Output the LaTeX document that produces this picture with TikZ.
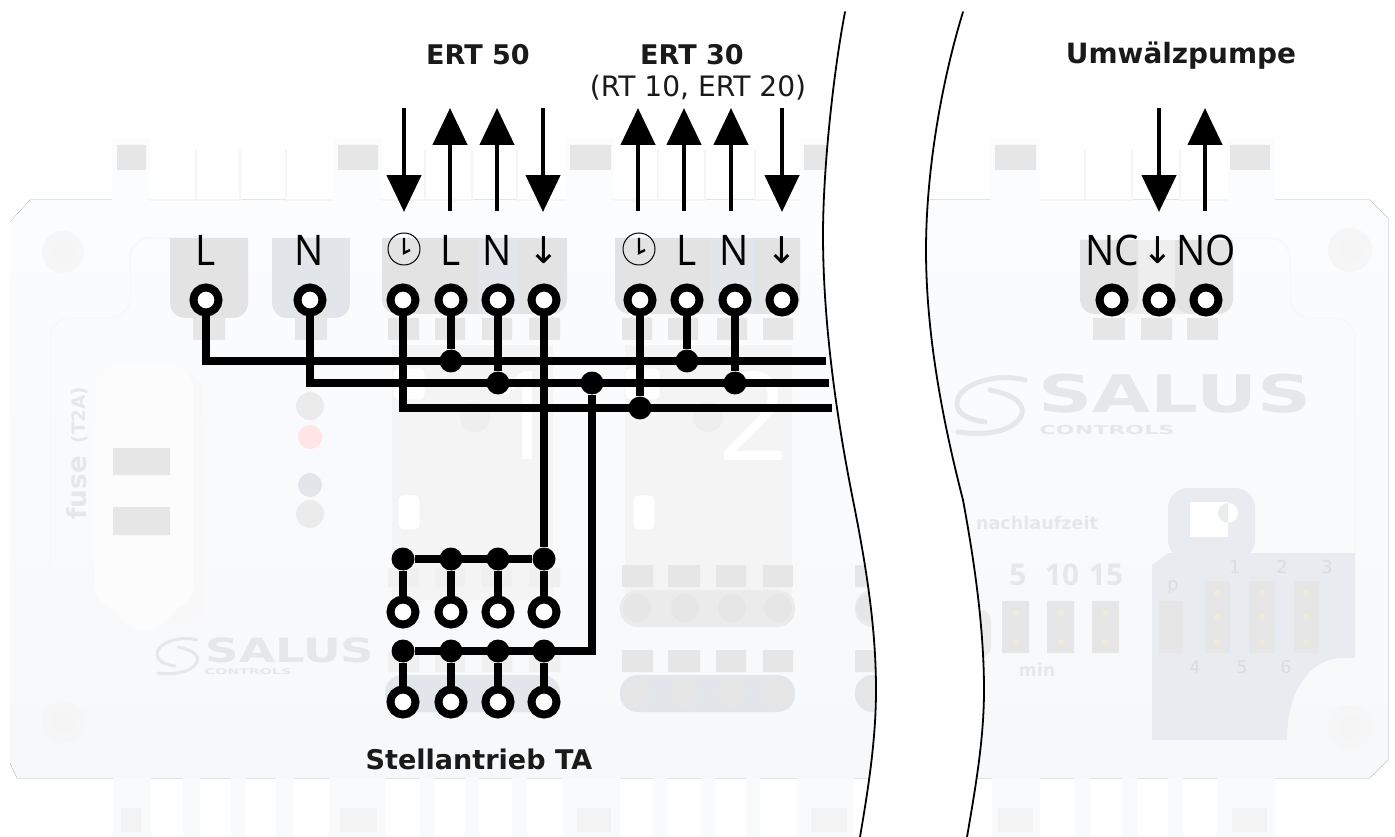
\documentclass[tikz,border=0pt]{standalone}
\usepackage{fontspec}
\setmainfont{DejaVu Sans}
\newfontfamily\termfont{Open Sans}
\usetikzlibrary{arrows.meta}
\definecolor{boardtop}{HTML}{FBFCFE}
\definecolor{boardlow}{HTML}{F7F8FA}
\definecolor{fingerc}{HTML}{F9FAFB}
\definecolor{fusec}{HTML}{FCFCFD}
\definecolor{tgray}{HTML}{E3E3E3}
\definecolor{tblue}{HTML}{E2E5EA}
\definecolor{sgray}{HTML}{E6E6E6}
\definecolor{pale}{HTML}{E5E7EB}
\definecolor{panelc}{HTML}{F4F4F4}
\definecolor{pillc}{HTML}{EBEBEB}
\definecolor{zonec}{HTML}{E8EBF0}
\definecolor{pinc}{HTML}{F0EBD8}
\definecolor{numc}{HTML}{DADCE0}
\definecolor{labk}{HTML}{1A1A1A}
\begin{document}
\begin{tikzpicture}[x=0.02cm, y=-0.02cm,
    n/.style={circle,draw=black,fill=white,line width=0.16cm,minimum size=0.5cm,inner sep=0pt},
    dot/.style={circle,fill=black,minimum size=0.46cm,inner sep=0pt},
    wire/.style={line width=0.145cm},
    arr/.style={line width=0.09cm,-{Triangle[length=0.74cm,width=0.68cm]}},
    edge/.style={line width=0.036cm,line cap=round},
    clockn/.style={circle,draw=black,line width=0.02cm,minimum size=0.64cm,inner sep=0pt},
    hand/.style={line width=0.045cm},
    title/.style={font=\bfseries\fontsize{15.4}{18}\selectfont,text=labk,inner sep=0pt},
    sub/.style={font=\fontsize{16}{18}\selectfont,text=labk,inner sep=0pt},
    term/.style={font=\termfont\fontsize{24}{26}\selectfont,inner sep=0pt,xscale=0.92,transform shape},
    gnd/.style={font=\fontsize{21}{24}\selectfont,inner sep=0pt},
    faint/.style={text=pale,inner sep=0pt,font=\bfseries\fontsize{10}{12}\selectfont},
    faintnum/.style={text=numc,inner sep=0pt,font=\fontsize{10}{12}\selectfont},
    logo/.style={text=pale,inner sep=0pt,transform shape,font=\bfseries},
    swoosh/.style={draw=pale,line cap=round}]
    \useasboundingbox (0,0) rectangle (1395,837);

    \fill[top color=boardtop,bottom color=boardlow] (30,200) -- (1370,200) -- (1388,218) -- (1388,760) -- (1370,778) -- (17,778) -- (10,763) -- (10,222) -- cycle;

    \fill[boardtop] (112,138) rectangle (150,200) (333,138) rectangle (382,200) (566,138) rectangle (614,200) (800,138) rectangle (850,200) (990,138) rectangle (1040,200) (1228,138) rectangle (1275,200);
    \fill[sgray] (117,145) rectangle (146,170) (338,145) rectangle (378,170) (570,145) rectangle (611,170) (804,145) rectangle (845,170) (995,145) rectangle (1036,170) (1230,145) rectangle (1270,170);
    \draw[sgray!40,line width=0.03cm] (196,150) -- (196,200) -- (150,200) (240,150) -- (240,200) -- (196,200) (286,150) -- (286,200) -- (333,200) (425,150) -- (425,200) -- (382,200) (472,150) -- (472,200) -- (425,200) (517,150) -- (517,200) -- (566,200) (658,150) -- (658,200) -- (614,200) (705,150) -- (705,200) -- (658,200) (755,150) -- (755,200) -- (800,200) (1085,150) -- (1085,200) -- (1040,200) (1132,150) -- (1132,200) -- (1085,200) (1180,150) -- (1180,200) -- (1228,200);

    \fill[fingerc] (113,778) rectangle (151,837) (183,778) rectangle (200,837) (231,778) rectangle (245,837) (276,778) rectangle (293,837) (329,778) rectangle (385,837) (420,778) rectangle (434,837) (465,778) rectangle (479,837) (512,778) rectangle (527,837) (563,778) rectangle (620,837) (653,778) rectangle (667,837) (701,778) rectangle (715,837) (746,778) rectangle (760,837) (797,778) rectangle (853,837) (992,778) rectangle (1040,837) (1075,778) rectangle (1090,837) (1122,778) rectangle (1137,837) (1168,778) rectangle (1183,837) (1217,778) rectangle (1275,837);
    \fill[sgray!50] (121,808) rectangle (141,832) (340,808) rectangle (377,832) (577,808) rectangle (611,832) (811,808) rectangle (847,832) (998,808) rectangle (1033,832) (1232,808) rectangle (1267,832);

    \draw[sgray!30,line width=0.04cm,rounded corners=0.4cm] (170,238) -- (130,238) -- (130,318) -- (50,318) -- (50,680) -- (100,680);
    \draw[sgray!30,line width=0.04cm,rounded corners=0.4cm] (1233,238) -- (1290,238) -- (1290,318) -- (1355,318) -- (1355,553);

    \fill[sgray!35] (1350,250) circle[radius=22] (63,252) circle[radius=21] (63,722) circle[radius=21] (1350,727) circle[radius=22];
    \fill[white!60!sgray] (1350,250) circle[radius=12] (63,252) circle[radius=11] (63,722) circle[radius=11] (1350,727) circle[radius=12];

    \fill[tgray] (170,238) -- (248,238) [rounded corners=0.3cm] -- (248,318) -- (170,318) [sharp corners] -- cycle;
    \fill[tblue] (272,238) -- (350,238) [rounded corners=0.3cm] -- (350,318) -- (272,318) [sharp corners] -- cycle;
    \fill[tgray] (382,238) -- (567,238) [rounded corners=0.3cm] -- (567,314) -- (382,314) [sharp corners] -- cycle;
    \fill[tblue] (478,238) rectangle (519,314);
    \fill[tgray] (615,238) -- (800,238) [rounded corners=0.3cm] -- (800,314) -- (615,314) [sharp corners] -- cycle;
    \fill[tblue] (710,238) rectangle (755,314);
    \fill[tgray!60] (1130,240) rectangle (1185,314);
    \fill[tgray] (1080,240) -- (1138,240) [rounded corners=0.3cm] -- (1138,314) -- (1080,314) [sharp corners] -- cycle;
    \fill[tgray] (1175,240) -- (1233,240) [rounded corners=0.3cm] -- (1233,314) -- (1175,314) [sharp corners] -- cycle;

    \fill[sgray] (193,318) rectangle (225,340) (295,318) rectangle (327,340) (388,318) rectangle (419,340) (435,318) rectangle (465,340) (482,318) rectangle (512,340) (529,318) rectangle (560,340) (622,318) rectangle (652,340) (668,318) rectangle (698,340) (717,318) rectangle (747,340) (763,318) rectangle (793,340) (1093,318) rectangle (1125,340) (1141,318) rectangle (1172,340) (1187,318) rectangle (1218,340);

    \fill[sgray!30,rounded corners=0.4cm] (150,372) rectangle (203,625);
    \fill[fusec,rounded corners=0.5cm] (95,363) rectangle (193,610);
    \fill[fusec] (95,590) .. controls (115,610) and (125,630) .. (144,630) .. controls (165,630) and (175,610) .. (193,590) -- cycle;
    \fill[sgray] (113,448) rectangle (170,475) (113,507) rectangle (170,535);
    \node[faint,rotate=90,font=\bfseries\fontsize{15}{17}\selectfont] (fuse) at (77,488) {fuse};
    \node[faint,rotate=90,font=\bfseries\fontsize{10.5}{12}\selectfont] (t2a) at (80,415) {(T2A)};

    \fill[pillc] (310,406) circle[radius=14] (310,514) circle[radius=14];
    \fill[red!10] (310,437) circle[radius=12];
    \fill[tblue] (310,485) circle[radius=12];

    \fill[panelc] (392,345) rectangle (553,600);
    \fill[panelc] (625,345) rectangle (792,600);
    \node[text=white,inner sep=0pt,font=\termfont\fontsize{70}{72}\selectfont] (rel1) at (525,416) {1};
    \node[text=white,inner sep=0pt,font=\termfont\fontsize{70}{72}\selectfont] (rel2) at (754,416) {2};
    \fill[pillc!70!panelc] (475,417) circle[radius=15] (708,417) circle[radius=15];
    \fill[white,draw=sgray!50,rounded corners=0.1cm] (393,368) rectangle (425,400) (625,368) rectangle (660,400);
    \fill[white,draw=sgray!50,rounded corners=0.1cm] (398,495) rectangle (420,530) (633,495) rectangle (655,530);

    \fill[sgray!60] (388,568) rectangle (419,587) (435,568) rectangle (465,587) (482,568) rectangle (512,587) (529,568) rectangle (560,587) (388,652) rectangle (419,672) (435,652) rectangle (465,672) (482,652) rectangle (512,672) (529,652) rectangle (560,672);
    \fill[sgray] (622,565) rectangle (653,587) (668,565) rectangle (700,587) (716,565) rectangle (746,587) (763,565) rectangle (793,587) (622,650) rectangle (653,672) (668,650) rectangle (700,672) (716,650) rectangle (746,672) (763,650) rectangle (793,672) (855,565) rectangle (890,587) (855,650) rectangle (890,672);
    \fill[pillc,rounded corners=0.35cm] (620,590) rectangle (795,627) (855,590) rectangle (900,627);
    \fill[tblue,rounded corners=0.35cm] (620,675) rectangle (795,712) (855,675) rectangle (900,712) (385,675) rectangle (560,712);
    \fill[sgray] (637,608) circle[radius=14] (685,608) circle[radius=14] (732,608) circle[radius=14] (778,608) circle[radius=14] (637,693) circle[radius=14] (685,693) circle[radius=14] (732,693) circle[radius=14] (778,693) circle[radius=14] (870,608) circle[radius=14] (870,693) circle[radius=14];
    \fill[pillc,rounded corners=0.2cm] (975,610) rectangle (991,657);

    \fill[zonec] (1255,553) -- (1355,553) -- (1355,658) -- (1340,658) .. controls (1310,660) and (1287,690) .. (1287,740) -- (1152,740) -- (1152,565) -- (1168,553) -- cycle;
    \fill[zonec,rounded corners=0.4cm] (1168,560) -- (1168,488) -- (1255,488) -- (1255,560) -- cycle;
    \fill[white] (1190,502) rectangle (1228,537) (1228,513) circle[radius=10];
    \fill[sgray] (1002,601) rectangle (1029,653) (1047,601) rectangle (1074,653) (1092,601) rectangle (1119,653) (1159,601) rectangle (1183,653) (1205,581) rectangle (1230,653) (1249,581) rectangle (1275,653) (1294,581) rectangle (1319,653);
    \fill[pinc] (1016,613) circle[radius=3] (1016,642) circle[radius=3] (1061,613) circle[radius=3] (1061,642) circle[radius=3] (1105,613) circle[radius=3] (1105,642) circle[radius=3] (1217,593) circle[radius=3] (1217,617) circle[radius=3] (1217,642) circle[radius=3] (1262,593) circle[radius=3] (1262,617) circle[radius=3] (1262,642) circle[radius=3] (1306,593) circle[radius=3] (1306,617) circle[radius=3] (1306,642) circle[radius=3];
    \node[faint] (nach) at (1037,523) {nachlaufzeit};
    \node[faint,font=\termfont\bfseries\fontsize{17}{19}\selectfont] (m5) at (1018,575) {5};
    \node[faint,font=\termfont\bfseries\fontsize{17}{19}\selectfont] (m10) at (1062,575) {10};
    \node[faint,font=\termfont\bfseries\fontsize{17}{19}\selectfont] (m15) at (1106,575) {15};
    \node[faint] (min) at (1037,670) {min};
    \node[faintnum] (p) at (1173,587) {p};
    \node[faintnum] (j1) at (1235,567) {1};
    \node[faintnum] (j2) at (1282,567) {2};
    \node[faintnum] (j3) at (1327,567) {3};
    \node[faintnum] (j4) at (1195,667) {4};
    \node[faintnum] (j5) at (1242,667) {5};
    \node[faintnum] (j6) at (1286,667) {6};

    \node[logo,xscale=1.45,font=\bfseries\fontsize{29.5}{32}\selectfont] (salus1) at (1175,394) {SALUS};
    \node[logo,xscale=1.8,font=\bfseries\fontsize{7}{8}\selectfont] (ctrl1) at (1107,430) {CONTROLS};
    \node[logo,xscale=1.39,font=\bfseries\fontsize{19}{21}\selectfont] (salus2) at (290,650) {SALUS};
    \node[logo,xscale=1.8,font=\bfseries\fontsize{4.5}{5}\selectfont] (ctrl2) at (248,672) {CONTROLS};
    \draw[swoosh,line width=0.1cm] (1025,380) .. controls (995,372) and (955,385) .. (957,405) .. controls (958,415) and (970,420) .. (985,422);
    \draw[swoosh,line width=0.1cm] (990,390) .. controls (1015,395) and (1028,405) .. (1020,418) .. controls (1010,432) and (985,436) .. (958,432);
    \draw[swoosh,line width=0.06cm] (197,640) .. controls (180,635) and (156,643) .. (157,655) .. controls (158,661) and (165,665) .. (175,666);
    \draw[swoosh,line width=0.06cm] (178,647) .. controls (193,650) and (201,656) .. (196,664) .. controls (190,672) and (175,675) .. (158,673);

    \fill[white] (845,12) .. controls (833,75) and (823,170) .. (823,235) .. controls (823,330) and (839,430) .. (853,500) .. controls (867,570) and (876,630) .. (876,690) .. controls (876,740) and (868,790) .. (860,837) -- (967,837) .. controls (975,790) and (984,740) .. (984,690) .. controls (984,630) and (975,565) .. (963,500) .. controls (945,430) and (926,340) .. (926,250) .. controls (926,170) and (942,80) .. (963,12) -- cycle;
    \draw[edge] (845,12) .. controls (833,75) and (823,170) .. (823,235) .. controls (823,330) and (839,430) .. (853,500) .. controls (867,570) and (876,630) .. (876,690) .. controls (876,740) and (868,790) .. (860,837);
    \draw[edge] (963,12) .. controls (942,80) and (926,170) .. (926,250) .. controls (926,340) and (945,430) .. (963,500) .. controls (975,565) and (984,630) .. (984,690) .. controls (984,740) and (975,790) .. (967,837);

    \node[title] (ert50) at (478,55) {ERT 50};
    \node[title] (ert30) at (692,55) {ERT 30};
    \node[sub] (rt) at (698,88) {(RT 10, ERT 20)};
    \node[title,font=\bfseries\fontsize{15.9}{18}\selectfont] (pump) at (1181,56) {Umwälzpumpe};
    \node[title] (ta) at (479,759) {Stellantrieb TA};

    \coordinate (a1) at (404,108);
    \coordinate (b1) at (404,212);
    \coordinate (a2) at (450,211);
    \coordinate (b2) at (450,108);
    \coordinate (a3) at (497,211);
    \coordinate (b3) at (497,108);
    \coordinate (a4) at (543,108);
    \coordinate (b4) at (543,212);
    \coordinate (a5) at (638,211);
    \coordinate (b5) at (638,108);
    \coordinate (a6) at (684,211);
    \coordinate (b6) at (684,108);
    \coordinate (a7) at (731,211);
    \coordinate (b7) at (731,108);
    \coordinate (a8) at (782,108);
    \coordinate (b8) at (782,212);
    \coordinate (a9) at (1159,108);
    \coordinate (b9) at (1159,212);
    \coordinate (a10) at (1205,211);
    \coordinate (b10) at (1205,108);

    \draw[arr] (a1) to (b1);
    \draw[arr] (a2) to (b2);
    \draw[arr] (a3) to (b3);
    \draw[arr] (a4) to (b4);
    \draw[arr] (a5) to (b5);
    \draw[arr] (a6) to (b6);
    \draw[arr] (a7) to (b7);
    \draw[arr] (a8) to (b8);
    \draw[arr] (a9) to (b9);
    \draw[arr] (a10) to (b10);

    \node[term] (lL) at (206,250) {L};
    \node[term] (lN) at (309,250) {N};
    \node[clockn] (clk1) at (404,249) {};
    \node[term] (lL1) at (451,250) {L};
    \node[term] (lN1) at (497,250) {N};
    \node[gnd] (lG1) at (544,250) {↓};
    \node[clockn] (clk2) at (639,249) {};
    \node[term] (lL2) at (687,250) {L};
    \node[term] (lN2) at (734,250) {N};
    \node[gnd] (lG2) at (782,250) {↓};
    \node[term] (lNC) at (1112,250) {NC};
    \node[gnd] (lG3) at (1158,250) {↓};
    \node[term] (lNO) at (1206,250) {NO};

    \draw[hand] (404,238) -- (404,253) -- (410,250);
    \draw[hand] (639,238) -- (639,253) -- (645,250);

    \node[n] (tL) at (206,300) {};
    \node[n] (tN) at (310,300) {};
    \node[n] (t1) at (403,300) {};
    \node[n] (t2) at (451,300) {};
    \node[n] (t3) at (498,300) {};
    \node[n] (t4) at (544,300) {};
    \node[n] (t5) at (640,300) {};
    \node[n] (t6) at (687,300) {};
    \node[n] (t7) at (735,300) {};
    \node[n] (t8) at (782,300) {};
    \node[n] (t9) at (1112,300) {};
    \node[n] (t10) at (1159,300) {};
    \node[n] (t11) at (1206,300) {};

    \coordinate (e1) at (826,361);
    \coordinate (e2) at (829,383);
    \coordinate (e3) at (832,408);

    \node[dot] (d1) at (451,361) {};
    \node[dot] (d2) at (498,383) {};
    \node[dot] (d3) at (592,383) {};
    \node[dot] (d4) at (687,361) {};
    \node[dot] (d5) at (735,383) {};
    \node[dot] (d6) at (640,408) {};

    \node[dot] (r1) at (403,559) {};
    \node[dot] (r2) at (451,559) {};
    \node[dot] (r3) at (498,559) {};
    \node[dot] (r4) at (544,559) {};
    \node[n] (u1) at (403,612) {};
    \node[n] (u2) at (451,612) {};
    \node[n] (u3) at (498,612) {};
    \node[n] (u4) at (544,612) {};
    \node[dot] (s1) at (403,651) {};
    \node[dot] (s2) at (451,651) {};
    \node[dot] (s3) at (498,651) {};
    \node[dot] (s4) at (544,651) {};
    \node[n] (v1) at (403,702) {};
    \node[n] (v2) at (451,702) {};
    \node[n] (v3) at (498,702) {};
    \node[n] (v4) at (544,702) {};

    \draw[wire] (tL) |- (e1);
    \draw[wire] (tN) |- (e2);
    \draw[wire] (t1) |- (e3);
    \draw[wire] (t2) to (d1);
    \draw[wire] (t3) to (d2);
    \draw[wire] (t4) to (r4);
    \draw[wire] (t5) to (d6);
    \draw[wire] (t6) to (d4);
    \draw[wire] (t7) to (d5);

    \draw[wire] (r1) to (r4);
    \draw[wire] (r1) to (u1);
    \draw[wire] (r2) to (u2);
    \draw[wire] (r3) to (u3);
    \draw[wire] (r4) to (u4);

    \draw[wire] (d3) |- (s1);
    \draw[wire] (s1) to (v1);
    \draw[wire] (s2) to (v2);
    \draw[wire] (s3) to (v3);
    \draw[wire] (s4) to (v4);
\end{tikzpicture}
\end{document}
